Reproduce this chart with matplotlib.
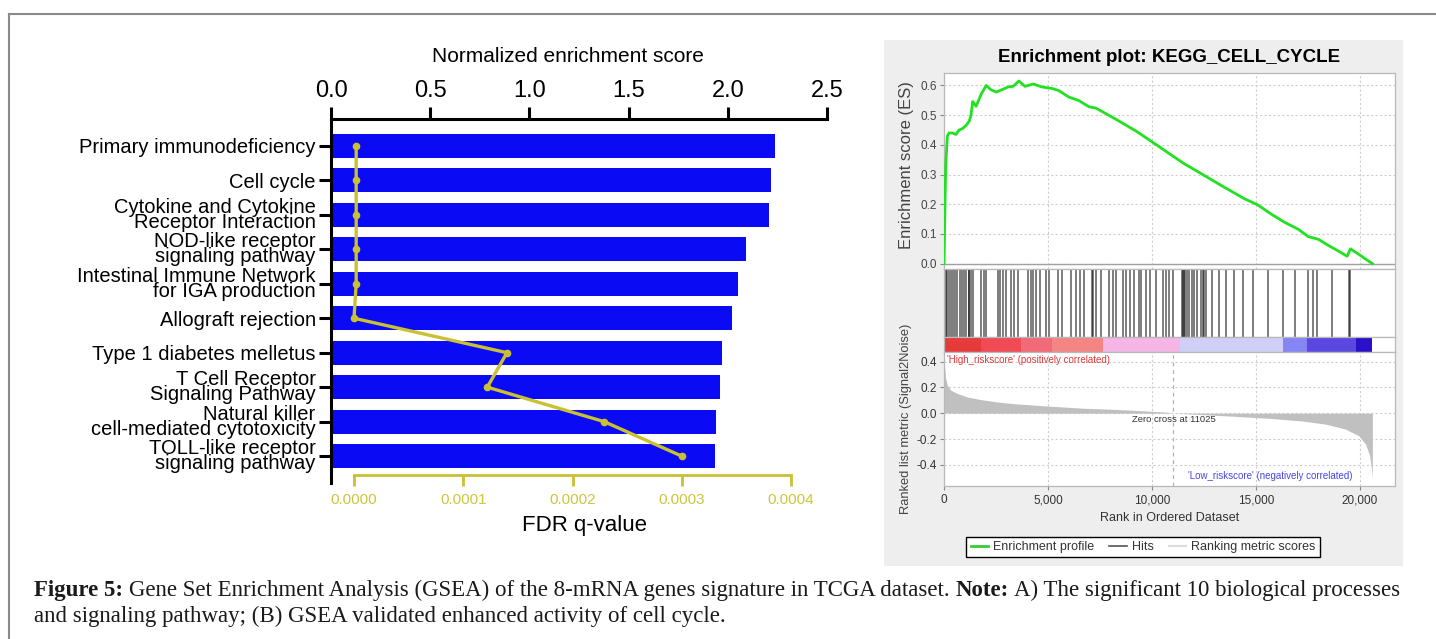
import matplotlib
matplotlib.use('Agg')
import matplotlib.pyplot as plt
import numpy as np
from matplotlib.patches import Rectangle
from matplotlib.lines import Line2D
from matplotlib.ticker import FuncFormatter
from matplotlib import font_manager

plt.rcParams['font.family'] = ['Liberation Sans', 'DejaVu Sans']

# ---- panel A data ----
pathways = [
    'Primary immunodeficiency',
    'Cell cycle',
    'Cytokine and Cytokine\nReceptor Interaction',
    'NOD-like receptor\nsignaling pathway',
    'Intestinal Immune Network\nfor IGA production',
    'Allograft rejection',
    'Type 1 diabetes melletus',
    'T Cell Receptor\nSignaling Pathway',
    'Natural killer\ncell-mediated cytotoxicity',
    'TOLL-like receptor\nsignaling pathway',
]
nes = [2.24, 2.22, 2.21, 2.09, 2.05, 2.02, 1.97, 1.96, 1.94, 1.935]
fdr = [0.000002, 0.000002, 0.000002, 0.000002, 0.000002, 0.0,
       0.000140, 0.000122, 0.000229, 0.000300]
nes_ticks = [0.0, 0.5, 1.0, 1.5, 2.0, 2.5]
fdr_ticks = [0.0, 0.0001, 0.0002, 0.0003, 0.0004]

# ---- panel B data (GSEA enrichment plot) ----
es_rank = [0, 81, 162, 243, 406, 568, 730, 893, 1055, 1217, 1298, 1380, 1542,
           1785, 2029, 2272, 2516, 2759, 3084, 3327, 3603, 3895, 4301, 4707,
           5194, 5518, 6005, 6492, 6979, 7304, 8277, 9251, 10225, 11523, 12497,
           13471, 14445, 15094, 15743, 16392, 17042, 17528, 18015, 18502,
           18989, 19395, 19557, 19963, 20612]
es_value = [0.0, 0.33, 0.43, 0.44, 0.44, 0.435, 0.45, 0.455, 0.465, 0.48, 0.50,
            0.546, 0.53, 0.57, 0.60, 0.585, 0.578, 0.585, 0.595, 0.597, 0.615,
            0.597, 0.605, 0.595, 0.59, 0.583, 0.561, 0.549, 0.528, 0.524,
            0.486, 0.446, 0.40, 0.338, 0.298, 0.258, 0.219, 0.198, 0.167,
            0.139, 0.116, 0.091, 0.082, 0.061, 0.042, 0.025, 0.05, 0.031, 0.0]
hits = [81, 146, 243, 341, 454, 535, 649, 746, 844, 957, 1055, 1184, 1217, 1298,
        1395, 1785, 1915, 2011, 2597, 2678, 2855, 3003, 3214, 3390, 3571, 4058,
        4171, 4301, 4415, 4626, 4918, 5031, 5486, 5681, 6119, 6330, 6541, 6752,
        7109, 7174, 7304, 7547, 7953, 8115, 8277, 8602, 8764, 8927, 9121, 9381,
        9495, 9738, 9900, 10192, 10517, 10679, 10842, 11036, 11450, 11500,
        11550, 11604, 11686, 11798, 11929, 12010, 12173, 12370, 12450, 12530,
        12610, 12903, 13227, 13552, 13958, 14364, 14850, 15581, 16311, 16879,
        17528, 17772, 17934, 18665, 19476, 19557]
metric_rank = [0, 32, 81, 162, 325, 649, 1136, 1785, 2597, 3408, 5031, 6654,
               8277, 9900, 10712, 11025, 12335, 13958, 15581, 17204, 18340,
               19314, 19963, 20288, 20482, 20579, 20612]
metric_value = [0.42, 0.35, 0.27, 0.217, 0.178, 0.152, 0.125, 0.105, 0.086,
                0.073, 0.055, 0.039, 0.029, 0.016, 0.008, 0.0, -0.01, -0.024,
                -0.039, -0.06, -0.084, -0.123, -0.175, -0.24, -0.33, -0.44, -0.515]
band_edges = [0, 1800, 3700, 5200, 7650, 11350, 16300, 17450, 19800, 20600]
band_colors = ['#e53b3b', '#f04a55', '#f26a78', '#f58585', '#f5b5e5',
               '#cfcff8', '#8585f5', '#5a48e0', '#2a10c8']
zero_cross = 11025
rank_ticks = [0, 5000, 10000, 15000, 20000]

W, H = 1436, 639
fig = plt.figure(figsize=(W / 100, H / 100), dpi=100)


def box(l, t, r, b):
    """Pixel box -> figure fraction rect."""
    return [l / W, 1 - b / H, (r - l) / W, (b - t) / H]


# outer frame of the figure
fig.add_artist(Line2D([9 / W, 1], [1 - 14 / H] * 2, color='#8a8a8a', lw=1.5))
fig.add_artist(Line2D([9 / W] * 2, [0, 1 - 14 / H], color='#8a8a8a', lw=1.5))

# narrow font for the FDR tick labels, if it exists
names = {f.name for f in font_manager.fontManager.ttflist}
narrow = 'Liberation Sans Narrow' if 'Liberation Sans Narrow' in names else 'Liberation Sans'

# ================= Panel A =================
yellow = '#c9c032'
ax = fig.add_axes(box(331, 119, 827, 483))
y = np.arange(len(pathways))
ax.barh(y, nes, height=0.70, color='#0a0af5', zorder=2)
ax.set_xlim(0, 2.5)
ax.set_ylim(9.78, -0.78)

# FDR axis, placed on a twin x axis
ax2 = ax.twiny()
px = 0.0004 / (791 - 354)
ax2.set_xlim(-(354 - 331) * px, 0.0004 + (827 - 791) * px)
ax2.plot(fdr, y, color=yellow, lw=2.4, marker='o', ms=4.5, zorder=3)
for side in ['top', 'left', 'right']:
    ax2.spines[side].set_visible(False)
ax2.spines['bottom'].set_position(('axes', (483 - 475) / 364))
ax2.spines['bottom'].set_bounds(0, 0.0004)
ax2.spines['bottom'].set_color(yellow)
ax2.spines['bottom'].set_linewidth(2)
ax2.xaxis.set_ticks_position('bottom')
ax2.set_xticks(fdr_ticks)
ax2.set_xticklabels([f'{t:.4f}' for t in fdr_ticks], family=narrow)
ax2.tick_params(axis='x', direction='out', length=8, width=2, color=yellow,
                labelcolor='#cdc63c', labelsize=12 if narrow != 'Liberation Sans' else 11,
                pad=5, top=False, labeltop=False)

# NES axis on top (after twiny, which moves the parent's ticks)
ax.xaxis.tick_top()
ax.set_xticks(nes_ticks)
ax.set_xticklabels([f'{t:.1f}' for t in nes_ticks])
ax.set_yticks(y)
ax.set_yticklabels(pathways, linespacing=0.74, multialignment='right')
ax.tick_params(axis='x', direction='out', length=9, width=2.2, labelsize=17, pad=3,
               bottom=False, labelbottom=False)
ax.tick_params(axis='y', direction='out', length=9, width=2.2, labelsize=14.5, pad=2)
for side in ['bottom', 'right']:
    ax.spines[side].set_visible(False)
for side in ['top', 'left']:
    ax.spines[side].set_linewidth(2.2)

fig.text(568 / W, 1 - 56 / H, 'Normalized enrichment score', ha='center',
         va='center', fontsize=15)
fig.text(585 / W, 1 - 525 / H, 'FDR q-value', ha='center', va='center', fontsize=16)

# ================= Panel B =================
fig.add_artist(Rectangle((884 / W, 1 - 566 / H), (1403 - 884) / W, (566 - 40) / H,
                         transform=fig.transFigure, facecolor='#eeeeee',
                         edgecolor='none', zorder=-1))
frame = '#b8b8b8'
grid_kw = dict(color='#cfcfcf', ls=(0, (2, 2)), lw=0.8)
xmax = 21700

es_ax = fig.add_axes(box(944, 73, 1395, 269))
es_ax.plot(es_rank, es_value, color='#22e022', lw=2, zorder=3)
es_ax.axhline(0, color='#a0a0a0', lw=1, zorder=2)
es_ax.set_xlim(0, xmax)
es_ax.set_ylim(-0.018, 0.642)
es_ax.set_xticks(rank_ticks)
es_ax.set_yticks(np.round(np.arange(0, 0.61, 0.1), 1))
es_ax.tick_params(axis='x', length=0, labelbottom=False)
es_ax.tick_params(axis='y', length=3, color='#888888', labelsize=8.5,
                  labelcolor='#444444', pad=2)
es_ax.grid(**grid_kw)
es_ax.set_title('Enrichment plot: KEGG_CELL_CYCLE', fontsize=13.5,
                fontweight='bold', pad=8)

hit_ax = fig.add_axes(box(944, 269, 1395, 337))
hit_ax.vlines(hits, 0, 1, color='black', alpha=0.55, lw=1.3)
hit_ax.set_xlim(0, xmax)
hit_ax.set_ylim(0, 1)
hit_ax.set_xticks([])
hit_ax.set_yticks([])

bar_ax = fig.add_axes(box(944, 337, 1395, 352))
for i, c in enumerate(band_colors):
    bar_ax.axvspan(band_edges[i], band_edges[i + 1], color=c, lw=0)
bar_ax.set_xlim(0, xmax)
bar_ax.set_xticks([])
bar_ax.set_yticks([])

met_ax = fig.add_axes(box(944, 352, 1395, 486))
met_ax.fill_between(metric_rank, 0, metric_value, color='#c0c0c0', lw=0, zorder=2)
met_ax.axvline(zero_cross, color='#b0b0b0', ls=(0, (3, 3)), lw=0.9, zorder=1)
met_ax.set_xlim(0, xmax)
met_ax.set_ylim(-0.564, 0.474)
met_ax.set_xticks(rank_ticks)
met_ax.xaxis.set_major_formatter(FuncFormatter(lambda v, p: f'{v:,.0f}'))
met_ax.set_yticks([0.4, 0.2, 0.0, -0.2, -0.4])
met_ax.set_yticklabels(['0.4', '0.2', '0.0', '-0.2', '-0.4'])
met_ax.tick_params(axis='x', length=3, color='#888888', labelsize=8.5,
                   labelcolor='#333333', pad=3)
met_ax.tick_params(axis='y', length=3, color='#888888', labelsize=8.5,
                   labelcolor='#333333', pad=2)
met_ax.grid(**grid_kw)
met_ax.text(163, 0.41, "'High_riskscore' (positively correlated)", color='#e03a3a',
            fontsize=7, va='center', ha='left')
met_ax.text(11040, -0.047, 'Zero cross at 11025', color='#333333', fontsize=6.8,
            va='center', ha='center')
met_ax.text(19640, -0.49, "'Low_riskscore' (negatively correlated)", color='#4646e6',
            fontsize=7, va='center', ha='right')
met_ax.set_xlabel('Rank in Ordered Dataset', fontsize=9, color='#333333', labelpad=4)

for a in [es_ax, hit_ax, bar_ax, met_ax]:
    for s in a.spines.values():
        s.set_color(frame)
        s.set_linewidth(0.9)

fig.text(907 / W, 1 - 165 / H, 'Enrichment score (ES)', rotation=90, ha='center',
         va='center', fontsize=12, color='#444444')
fig.text(906 / W, 1 - 419 / H, 'Ranked list metric (Signal2Noise)', rotation=90,
         ha='center', va='center', fontsize=9.3, color='#444444')

legend_items = [
    Line2D([], [], color='#33cc33', lw=2, label='Enrichment profile'),
    Line2D([], [], color='#555555', lw=1.2, label='Hits'),
    Line2D([], [], color='#dddddd', lw=1.5, label='Ranking metric scores'),
]
leg = fig.legend(handles=legend_items, loc='center', ncol=3,
                 bbox_to_anchor=(1143 / W, 1 - 547 / H), fontsize=9,
                 handlelength=1.4, handletextpad=0.4, columnspacing=1.2,
                 borderpad=0.35, fancybox=False, framealpha=1)
leg.get_frame().set_edgecolor('black')
leg.get_frame().set_linewidth(1)
for t in leg.get_texts():
    t.set_color('#333333')

# ================= Caption =================
renderer = fig.canvas.get_renderer()
cap_kw = dict(fontsize=16.5, family='Liberation Serif', color='#1a1a1a', va='baseline')


def text_width(s, **kw):
    t = fig.text(0, 0, s, **kw)
    w = t.get_window_extent(renderer).width
    t.remove()
    return w


space = text_width('x x', **cap_kw) - text_width('xx', **cap_kw)


def draw_runs(x, y, runs):
    for txt, weight in runs:
        t = fig.text(x / W, 1 - y / H, txt, fontweight=weight, **cap_kw)
        x += t.get_window_extent(renderer).width + space


draw_runs(34, 596, [
    ('Figure 5:', 'bold'),
    ('Gene Set Enrichment Analysis (GSEA) of the 8-mRNA genes signature in TCGA dataset.', 'normal'),
    ('Note:', 'bold'),
    ('A) The significant 10 biological processes', 'normal'),
])
draw_runs(34, 622, [
    ('and signaling pathway; (B) GSEA validated enhanced activity of cell cycle.', 'normal'),
])

fig.savefig('out.png', dpi=100)
